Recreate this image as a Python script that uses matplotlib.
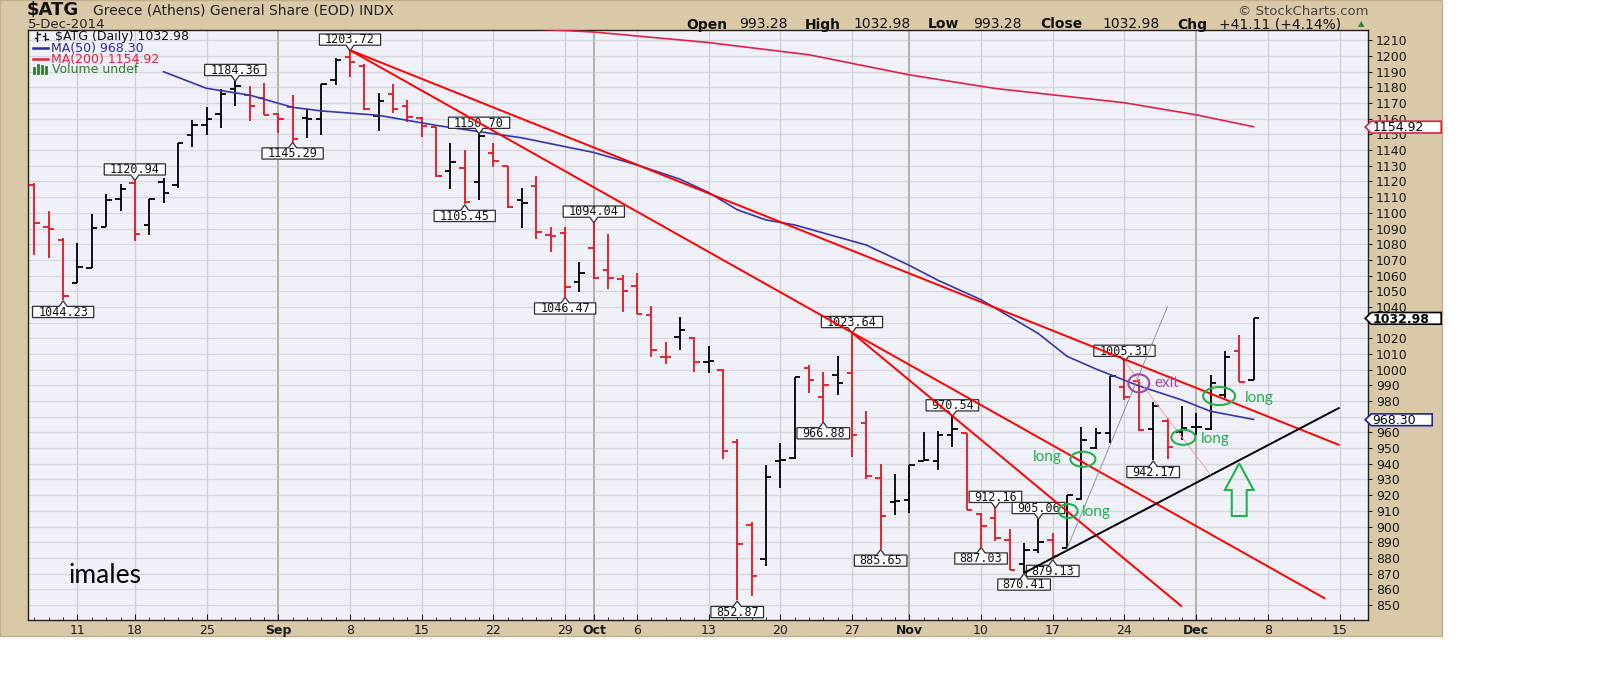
import numpy as np
import pandas as pd
import matplotlib
matplotlib.use("Agg")
import matplotlib.pyplot as plt
from matplotlib.path import Path
from matplotlib.patches import Rectangle, Ellipse, Polygon
from matplotlib.lines import Line2D
from matplotlib.collections import LineCollection

# ---------------------------------------------------------------- data
first_day, last_axis_day = "2014-08-06", "2014-12-17"
holidays = ["2014-08-15", "2014-10-28"]          # Athens exchange closed

opens = [1117.6, 1090.8, 1083.0, 1055.5, 1065.0, 1091.2, 1108.7, 1119.2, 1092.3, 1119.5,
         1117.8, 1149.7, 1156.0, 1162.8, 1178.8, 1175.1, 1173.0, 1163.0, 1167.3, 1160.3,
         1160.0, 1184.7, 1199.6, 1193.6, 1161.8, 1175.6, 1168.1, 1160.3, 1154.5, 1126.9,
         1128.4, 1119.9, 1138.4, 1129.9, 1108.2, 1117.1, 1085.9, 1087.4, 1056.1, 1077.8,
         1063.6, 1057.8, 1053.4, 1034.9, 1008.0, 1021.1, 1020.0, 1004.7, 1000.0, 953.9,
         901.0, 879.1, 941.8, 943.5, 1000.9, 982.8, 996.6, 997.7, 966.2, 931.2,
         915.5, 916.9, 941.8, 942.0, 958.4, 959.9, 907.8, 905.3, 891.4, 876.0,
         885.1, 891.4, 886.1, 917.4, 950.3, 959.9, 989.2, 992.8, 962.0, 967.5,
         960.3, 963.3, 962.0, 983.9, 1011.9, 993.28]
highs = [1119.2, 1101.4, 1083.8, 1081.0, 1099.3, 1112.0, 1118.2, 1120.94, 1108.8, 1122.4,
         1144.4, 1159.2, 1167.3, 1178.8, 1184.36, 1180.9, 1182.6, 1163.5, 1175.1, 1166.0,
         1182.0, 1198.5, 1203.72, 1194.9, 1176.2, 1182.0, 1172.0, 1161.3, 1154.9, 1144.4,
         1140.0, 1150.70, 1144.4, 1129.9, 1116.0, 1123.5, 1090.8, 1090.8, 1068.9, 1094.04,
         1086.5, 1060.4, 1061.9, 1040.7, 1017.9, 1033.8, 1021.1, 1015.3, 1000.5, 955.6,
         903.1, 939.3, 953.1, 995.2, 1003.0, 998.4, 1008.7, 1023.64, 973.9, 939.7,
         933.3, 939.3, 960.1, 961.1, 970.54, 959.9, 908.8, 912.16, 898.3, 889.3,
         905.06, 895.7, 920.1, 963.7, 963.1, 996.0, 1005.31, 993.9, 979.6, 969.0,
         976.9, 972.5, 996.6, 1012.1, 1022.1, 1032.98]
lows = [1073.1, 1071.4, 1044.23, 1055.5, 1064.7, 1091.2, 1101.4, 1082.3, 1085.9, 1106.1,
        1115.7, 1142.2, 1149.7, 1153.9, 1168.3, 1158.8, 1162.4, 1150.7, 1145.29, 1147.5,
        1149.7, 1181.5, 1186.8, 1165.6, 1152.4, 1163.5, 1158.1, 1148.6, 1123.1, 1115.0,
        1105.45, 1108.2, 1129.4, 1102.9, 1090.5, 1083.2, 1074.9, 1046.47, 1049.4, 1057.8,
        1051.3, 1037.0, 1035.3, 1008.3, 1003.5, 1012.6, 998.7, 998.1, 942.9, 852.87,
        855.7, 874.9, 924.4, 942.9, 985.4, 966.88, 983.9, 944.2, 930.1, 885.65,
        907.4, 908.9, 941.8, 936.1, 950.9, 910.6, 887.03, 890.6, 872.3, 870.41,
        883.0, 879.13, 886.1, 917.0, 949.5, 953.1, 980.7, 961.1, 942.17, 942.9,
        955.2, 958.4, 961.6, 981.8, 991.87, 993.28]
closes = [1093.8, 1090.0, 1047.2, 1065.7, 1090.2, 1108.2, 1115.0, 1086.3, 1108.8, 1112.5,
          1144.4, 1156.0, 1159.8, 1176.0, 1181.0, 1168.1, 1162.4, 1159.8, 1146.9, 1160.0,
          1182.0, 1197.5, 1196.4, 1166.0, 1171.5, 1166.0, 1161.3, 1155.4, 1123.5, 1132.2,
          1107.0, 1149.0, 1133.1, 1103.5, 1106.1, 1088.0, 1085.5, 1052.9, 1061.9, 1058.7,
          1058.3, 1050.2, 1035.3, 1012.6, 1007.8, 1025.3, 1004.7, 1005.5, 948.4, 888.7,
          868.5, 931.8, 942.5, 995.2, 993.5, 990.3, 991.3, 958.2, 932.2, 906.7,
          916.0, 939.3, 942.5, 958.4, 962.0, 910.6, 900.4, 892.5, 872.3, 885.0,
          890.4, 881.0, 920.1, 955.2, 959.9, 996.0, 982.8, 961.6, 976.9, 950.9,
          962.9, 963.7, 991.3, 1008.0, 991.87, 1032.98]

ma50_dates = ["2014-08-20", "2014-08-25", "2014-08-28", "2014-09-02", "2014-09-04", "2014-09-10",
              "2014-09-16", "2014-09-19", "2014-09-24", "2014-10-01", "2014-10-06", "2014-10-09",
              "2014-10-13", "2014-10-15", "2014-10-17", "2014-10-21", "2014-10-29", "2014-11-03",
              "2014-11-05", "2014-11-10", "2014-11-14", "2014-11-18", "2014-11-20", "2014-11-25",
              "2014-11-28", "2014-12-02", "2014-12-05"]
ma50_vals = [1190.0, 1179.4, 1175.1, 1167.3, 1165.0, 1162.2, 1155.8, 1151.8, 1147.8, 1138.5,
             1130.6, 1121.5, 1113.0, 1102.0, 1095.5, 1092.3, 1079.5, 1066.5, 1057.0, 1044.6,
             1023.0, 1008.5, 1000.5, 989.7, 980.7, 973.5, 968.30]
ma200_dates = ["2014-09-25", "2014-10-01", "2014-10-13", "2014-10-22", "2014-11-03",
               "2014-11-11", "2014-11-24", "2014-12-01", "2014-12-05"]
ma200_vals = [1217.2, 1215.3, 1208.6, 1200.8, 1188.0, 1179.3, 1170.2, 1162.5, 1154.92]

# hand-drawn trend lines (start date/value -> end date/value)
trend_start_dates = ["2014-09-08", "2014-09-08", "2014-10-27", "2014-11-13", "2014-11-24", "2014-11-18"]
trend_start_vals = [1203.72, 1203.72, 1023.64, 870.41, 1005.31, 886.1]
trend_end_dates = ["2014-12-15", "2014-12-12", "2014-11-28", "2014-12-15", "2014-12-02", "2014-11-27"]
trend_end_vals = [951.9, 854.0, 849.0, 975.8, 933.0, 1040.2]
trend_colors = ["#ff0000", "#ff0000", "#ff0000", "#000000", "#f29a9a", "#8a8a8a"]
trend_widths = [1.4, 1.4, 1.4, 1.4, 0.6, 0.6]

# high / low price flags
flag_dates = ["2014-08-08", "2014-08-18", "2014-08-27", "2014-09-02", "2014-09-08", "2014-09-18",
              "2014-09-19", "2014-09-29", "2014-10-01", "2014-10-15", "2014-10-23", "2014-10-27",
              "2014-10-30", "2014-11-06", "2014-11-10", "2014-11-11", "2014-11-13", "2014-11-14",
              "2014-11-17", "2014-11-24", "2014-11-26"]
flag_vals = [1044.23, 1120.94, 1184.36, 1145.29, 1203.72, 1105.45, 1150.70, 1046.47, 1094.04,
             852.87, 966.88, 1023.64, 885.65, 970.54, 887.03, 912.16, 870.41, 905.06, 879.13,
             1005.31, 942.17]
flag_side = ["low", "high", "high", "low", "high", "low", "high", "low", "high", "low", "low",
             "high", "low", "high", "low", "high", "low", "high", "low", "high", "low"]

# hand-drawn circles (date + fraction of a day, value, size in days / points)
circle_dates = ["2014-11-19", "2014-11-18", "2014-11-28", "2014-12-02", "2014-11-25"]
circle_day_shift = [0.1, 0.07, 0.1, 0.6, 0.0]
circle_vals = [942.9, 909.9, 956.9, 983.2, 991.3]
circle_w_days = [1.74, 1.32, 1.67, 2.23, 1.46]
circle_h_pts = [9.6, 8.9, 9.6, 11.5, 11.5]
circle_kind = ["long", "long", "long", "long", "exit"]

note_texts = ["long", "long", "long", "long", "exit"]
note_dates = ["2014-11-17", "2014-11-19", "2014-12-01", "2014-12-04", "2014-11-26"]
note_day_shift = [0.65, 0.04, 0.33, 0.4, 0.06]
note_vals = [944.2, 909.5, 955.6, 982.2, 991.7]
note_ha = ["right", "left", "left", "left", "left"]

arrow_date = "2014-12-04"
arrow_tip, arrow_head_base, arrow_bottom = 940.3, 923.3, 906.7

ylim_lo, ylim_hi = 840.4, 1216.6
ytick_vals = list(range(850, 1211, 10))
ytick_hidden = [970, 1030]          # covered by the value tags in the original

# ---------------------------------------------------------------- styles
W, H = 1600, 688
TAN = "#d9c9a9"
PLOT_BG = "#eff0f8"
RED_BAR = "#e8141e"
GREEN = "#22b14c"
PURPLE = "#a349a4"
MA50_C = "#3636a6"
MA200_C = "#e0204a"

days = pd.bdate_range(first_day, last_axis_day)
days = days[~days.isin(pd.to_datetime(holidays))]
pos = {d.strftime("%Y-%m-%d"): i for i, d in enumerate(days)}
n = len(closes)

fig = plt.figure(figsize=(W / 100, H / 100), dpi=100, facecolor="white")


def P(x, y):
    return (x / W, 1 - y / H)


fig.add_artist(Rectangle((0, 1 - 636 / H), 1442 / W, 636 / H, transform=fig.transFigure,
                         facecolor=TAN, edgecolor="#c2ae88", lw=1.0, zorder=-5))

ax = fig.add_axes([28.3 / W, 1 - 620 / H, 1340 / W, 590 / H])
ax.set_facecolor(PLOT_BG)
ax.set_xlim(-0.43, 92.92)
ax.set_ylim(ylim_lo, ylim_hi)
for s in ax.spines.values():
    s.set_color("#202020")
    s.set_linewidth(1.0)

# ticks / grid
tick_idx, tick_lab, tick_month = [], [], []
for i, d in enumerate(days):
    month_start = i > 0 and d.month != days[i - 1].month
    if d.weekday() == 0 or month_start:
        tick_idx.append(i)
        tick_lab.append(d.strftime("%b") if month_start else str(d.day))
        tick_month.append(month_start)
ax.set_xticks(tick_idx)
ax.set_xticklabels(tick_lab)
ax.set_xticks(range(len(days)), minor=True)
for lab, m in zip(ax.get_xticklabels(), tick_month):
    if m:
        lab.set_fontweight("bold")
ax.tick_params(axis="x", which="major", direction="in", length=4, width=0.8, pad=3,
               labelsize=9, labelcolor="#1a1a1a", color="#202020")
ax.tick_params(axis="x", which="minor", direction="in", length=2.2, width=0.6, color="#202020")
for i, m in zip(tick_idx, tick_month):
    ax.axvline(i, color="#b2b2aa" if m else "#d0d0d0", lw=1.4 if m else 0.9, zorder=0.5)

ax.yaxis.tick_right()
ax.set_yticks(ytick_vals)
ax.set_yticklabels(["" if v in ytick_hidden else str(v) for v in ytick_vals])
ax.tick_params(axis="y", direction="out", length=3, width=0.8, pad=2.5, labelsize=9,
               labelcolor="#1a1a1a", color="#202020")
for v in ytick_vals:
    ax.axhline(v, color="#d6d7dd", lw=0.9, zorder=0.4)

# OHLC bars
tk = 0.38
segs, cols = [], []
for i in range(n):
    prev = closes[i - 1] if i > 0 else opens[i]
    c = "#000000" if closes[i] >= prev else RED_BAR
    segs += [[(i, lows[i]), (i, highs[i])],
             [(i - tk, opens[i]), (i, opens[i])],
             [(i, closes[i]), (i + tk, closes[i])]]
    cols += [c, c, c]
ax.add_collection(LineCollection(segs, colors=cols, linewidths=1.3, capstyle="butt", zorder=3))

# moving averages
ax.plot([pos[d] for d in ma50_dates], ma50_vals, color=MA50_C, lw=1.2, zorder=3.5)
ax.plot([pos[d] for d in ma200_dates], ma200_vals, color=MA200_C, lw=1.2, zorder=3.5)


# ---------------------------------------------------------------- flags
def flag_box(side, box_w, pad=1.3, ph=5.5, pw=4.0):
    def f(x0, y0, w, h, ms):
        base = y0 + 0.21 * ms
        b = base - pad
        t = base + 0.73 * ms + pad
        c = x0 + w / 2
        bw = max(box_w, w + 2 * pad)
        l, r = c - bw / 2, c + bw / 2
        if side == "high":
            v = [(l, b), (c - pw, b), (c, b - ph), (c + pw, b), (r, b), (r, t), (l, t)]
        else:
            v = [(l, b), (r, b), (r, t), (c + pw, t), (c, t + ph), (c - pw, t), (l, t)]
        return Path(v + [v[0]], closed=True)
    return f


FLAG_FS = 8.5
ms_flag = FLAG_FS * 100 / 72
for d, v, side in zip(flag_dates, flag_vals, flag_side):
    s = f"{v:.2f}"
    bw = 8.6 * len(s) + 1
    pad, ph = 1.3, 5.5
    dy = pad + ph if side == "high" else -(0.73 * ms_flag + pad + ph)
    ax.annotate(s, xy=(pos[d], v), xytext=(0, dy), textcoords="offset pixels",
                ha="center", va="baseline", fontsize=FLAG_FS, family="DejaVu Sans Mono",
                color="#111111", zorder=3.8,
                bbox=dict(boxstyle=flag_box(side, bw, pad, ph), facecolor="white",
                          edgecolor="#303030", lw=0.9))

# trend lines
for sd, sv, ed, ev, c, lw in zip(trend_start_dates, trend_start_vals, trend_end_dates,
                                 trend_end_vals, trend_colors, trend_widths):
    ax.plot([pos[sd], pos[ed]], [sv, ev], color=c, lw=lw, zorder=4, solid_capstyle="butt")

# circles and notes
for d, sh, v, w, h, k in zip(circle_dates, circle_day_shift, circle_vals, circle_w_days,
                             circle_h_pts, circle_kind):
    ax.add_patch(Ellipse((pos[d] + sh, v), w, h, fill=False,
                         edgecolor=GREEN if k == "long" else PURPLE, lw=1.5, zorder=5))
for t, d, sh, v, ha in zip(note_texts, note_dates, note_day_shift, note_vals, note_ha):
    ax.text(pos[d] + sh, v, t, ha=ha, va="center", fontsize=11, family="Lato",
            color=GREEN if t == "long" else PURPLE, zorder=5)

ax_x = pos[arrow_date]
hw, sw = 1.0, 0.52
ax.add_patch(Polygon([(ax_x - sw, arrow_bottom), (ax_x - sw, arrow_head_base),
                      (ax_x - hw, arrow_head_base), (ax_x, arrow_tip),
                      (ax_x + hw, arrow_head_base), (ax_x + sw, arrow_head_base),
                      (ax_x + sw, arrow_bottom)], closed=True, fill=False,
                     edgecolor=GREEN, lw=1.5, zorder=5))


# ---------------------------------------------------------------- right-axis value tags
def tag_box(total_w, pad=1.3, ptr=6.0):
    def f(x0, y0, w, h, ms):
        base = y0 + 0.21 * ms
        b = base - pad
        t = base + 0.73 * ms + pad
        l = x0 - pad
        r = l + total_w
        m = (b + t) / 2
        v = [(l, b), (r, b), (r, t), (l, t), (l - ptr, m)]
        return Path(v + [v[0]], closed=True)
    return f


TAG_FS = 9
ms_tag = TAG_FS * 100 / 72
tags = [(ma200_vals[-1], MA200_C, "normal", 70),
        (closes[-1], "#000000", "bold", 70),
        (ma50_vals[-1], "#22229a", "normal", 61)]
for v, ec, wt, tw in tags:
    ax.annotate(f"{v:.2f}", xy=(1, v), xycoords=ax.get_yaxis_transform(),
                xytext=(4.2, -0.365 * ms_tag), textcoords="offset pixels",
                ha="left", va="baseline", fontsize=TAG_FS, fontweight=wt, color="#000000",
                annotation_clip=False, zorder=6,
                bbox=dict(boxstyle=tag_box(tw), facecolor="white", edgecolor=ec, lw=1.2))

# ---------------------------------------------------------------- header texts
fig.text(*P(27, 10), "$ATG", fontsize=13, fontweight="bold", va="center", ha="left",
         color="#111111")
fig.text(*P(92.7, 10.8), "Greece (Athens) General Share (EOD) INDX", fontsize=10,
         va="center", ha="left", color="#222222")
fig.text(*P(28, 24.2), days[n - 1].strftime("%-d-%b-%Y"), fontsize=9.5, va="center",
         ha="left", color="#222222")
fig.text(*P(1368, 11.5), "© StockCharts.com", fontsize=9.5, va="center", ha="right",
         color="#444444")

chg = closes[-1] - closes[-2]
pct = chg / closes[-2] * 100
header = [("Open", "bold", 686), (f"{opens[-1]:.2f}", "normal", 739),
          ("High", "bold", 805), (f"{highs[-1]:.2f}", "normal", 853),
          ("Low", "bold", 928), (f"{lows[-1]:.2f}", "normal", 973),
          ("Close", "bold", 1040), (f"{closes[-1]:.2f}", "normal", 1102),
          ("Chg", "bold", 1177), (f"{chg:+.2f} ({pct:+.2f}%)", "normal", 1218.6)]
for t, wt, xp in header:
    fig.text(*P(xp, 24.5), t, fontsize=10, fontweight=wt, va="center", ha="left",
             color="#111111")
fig.text(*P(1358, 24), "▲", fontsize=6, va="center", ha="left", color="#2a8a2a")

# legend inside the plot
fig.text(*P(55, 36.7), f"$ATG (Daily) {closes[-1]:.2f}", fontsize=9, va="center",
         ha="left", color="#111111")
fig.text(*P(51, 48.3), f"MA(50) {ma50_vals[-1]:.2f}", fontsize=9, va="center",
         ha="left", color="#2b2b9c")
fig.text(*P(51, 59.3), f"MA(200) {ma200_vals[-1]:.2f}", fontsize=9, va="center",
         ha="left", color="#e0203a")
fig.text(*P(52, 69.3), "Volume undef", fontsize=9, va="center", ha="left",
         color="#2f7f2f")


def fig_line(x0, y0, x1, y1, **kw):
    fig.add_artist(Line2D([x0 / W, x1 / W], [1 - y0 / H, 1 - y1 / H],
                          transform=fig.transFigure, **kw))


fig_line(33, 48.3, 48, 48.3, color="#2b2b9c", lw=1.8)
fig_line(33, 59.3, 48, 59.3, color="#e0203a", lw=1.8)
for xb, top in zip([34, 38, 42, 46], [68, 65, 66, 67]):
    fig_line(xb, 73, xb, top, color="#2f7f2f", lw=2.0)
# small OHLC icon
for xb, y0, y1, yo, yc in [(37, 41, 32, 38, 34), (45, 40, 33, 36, 39)]:
    fig_line(xb, y0, xb, y1, color="#111111", lw=1.0)
    fig_line(xb - 2.5, yo, xb, yo, color="#111111", lw=1.0)
    fig_line(xb, yc, xb + 2.5, yc, color="#111111", lw=1.0)

fig.text(*P(68.3, 583.3), "imales", fontsize=19, family="Lato", va="baseline", ha="left",
         color="#000000")

fig.savefig("out.png", dpi=100, facecolor="white")
